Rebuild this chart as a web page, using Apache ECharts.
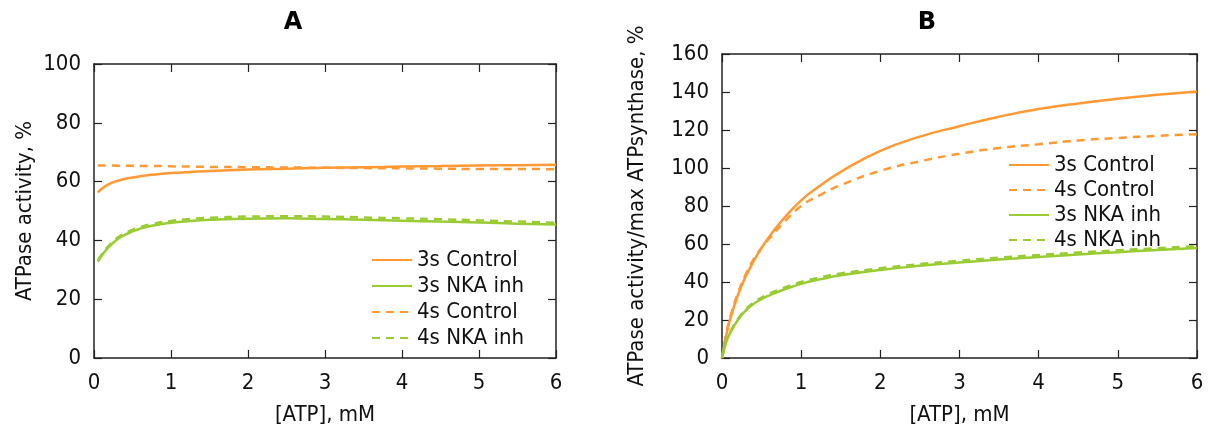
<!DOCTYPE html>
<html>
<head>
<meta charset="utf-8">
<script src="https://cdn.jsdelivr.net/npm/echarts@6/dist/echarts.min.js"></script>
<style>
  html, body { margin: 0; padding: 0; background: #fff; }
  #chart { width: 1210px; height: 431px; }
</style>
</head>
<body>
<div id="chart"></div>
<script>
// panel A: ATPase activity, %
var atpA = [0.05, 0.1, 0.2, 0.3, 0.4, 0.5, 0.6, 0.75, 1, 1.25, 1.5, 2, 2.5, 3, 3.5, 4, 4.5, 5, 5.5, 6];
var ctrl3A = [56.3, 57.6, 59.2, 60.2, 60.9, 61.4, 61.8, 62.3, 62.9, 63.3, 63.6, 64.1, 64.4, 64.7, 64.9, 65.1, 65.3, 65.5, 65.6, 65.7];
var ctrl4A = [65.5, 65.5, 65.5, 65.4, 65.4, 65.4, 65.3, 65.3, 65.2, 65.1, 65.0, 64.9, 64.8, 64.7, 64.6, 64.5, 64.4, 64.3, 64.3, 64.2];
var nka3A  = [32.8, 34.8, 38.0, 40.3, 41.9, 43.1, 44.0, 45.0, 46.0, 46.6, 47.0, 47.4, 47.5, 47.3, 47.0, 46.7, 46.4, 46.1, 45.7, 45.4];
var nka4A  = [33.2, 35.2, 38.4, 40.8, 42.4, 43.6, 44.5, 45.6, 46.6, 47.3, 47.7, 48.1, 48.2, 48.1, 47.8, 47.5, 47.2, 46.8, 46.4, 46.0];

// panel B: ATPase activity / max ATPsynthase, %
var atpB = [0, 0.05, 0.1, 0.2, 0.3, 0.4, 0.5, 0.6, 0.75, 1, 1.25, 1.5, 2, 2.5, 3, 3.5, 4, 4.5, 5, 5.5, 6];
var ctrl3B = [0, 11, 20, 33, 43, 51, 58, 64, 72, 83, 91, 98, 109, 116.5, 122, 127, 131, 134, 136.5, 138.5, 140.3];
var ctrl4B = [0, 12, 21, 34, 44, 52, 58, 63, 70, 80, 86, 91, 98.5, 103.5, 107.5, 110.5, 112.5, 114.5, 115.8, 116.9, 117.8];
var nka3B  = [0, 8, 13, 20, 25, 28.5, 31, 33, 35.5, 39, 41.5, 43.5, 46.3, 48.5, 50.3, 51.8, 53.2, 54.5, 55.7, 56.8, 57.9];
var nka4B  = [0, 8.5, 13.5, 20.5, 25.6, 29.2, 31.8, 33.9, 36.4, 40, 42.5, 44.5, 47.2, 49.4, 51.2, 52.8, 54.2, 55.5, 56.7, 57.8, 58.9];

var xTicks = [0, 1, 2, 3, 4, 5, 6];

var orange = '#ff9933';
var green = '#99cc33';
var font = "'DejaVu Sans Condensed', 'Liberation Sans Narrow', 'DejaVu Sans', sans-serif";

function pairs(xs, ys) {
  var out = [];
  for (var i = 0; i < xs.length; i++) {
    out.push([xs[i], ys[i]]);
  }
  return out;
}

function axisX(gridIndex, pos, show) {
  return {
    type: 'value', gridIndex: gridIndex, position: pos,
    min: xTicks[0], max: xTicks[xTicks.length - 1], interval: 1,
    name: show ? '[ATP], mM' : '',
    nameLocation: 'middle', nameGap: 46,
    nameTextStyle: { fontFamily: font, fontSize: 22, color: '#111' },
    axisLine: { show: true, onZero: false, lineStyle: { color: '#222', width: 1.5 } },
    axisTick: { show: true, inside: true, length: 8, lineStyle: { color: '#222', width: 1.2 } },
    axisLabel: { show: show, fontFamily: font, fontSize: 22, color: '#111', margin: 14 },
    splitLine: { show: false }
  };
}

function axisY(gridIndex, pos, show, max, interval, name, gap, nameSize) {
  return {
    type: 'value', gridIndex: gridIndex, position: pos,
    min: 0, max: max, interval: interval,
    name: show ? name : '',
    nameLocation: 'middle', nameGap: gap,
    nameTextStyle: { fontFamily: font, fontSize: nameSize, color: '#111' },
    axisLine: { show: true, onZero: false, lineStyle: { color: '#222', width: 1.5 } },
    axisTick: { show: true, inside: true, length: 8, lineStyle: { color: '#222', width: 1.2 } },
    axisLabel: { show: show, fontFamily: font, fontSize: 22, color: '#111', margin: 13 },
    splitLine: { show: false }
  };
}

function line(name, x, y, color, dashed, xi, yi) {
  return {
    name: name, type: 'line', xAxisIndex: xi, yAxisIndex: yi,
    data: pairs(x, y), smooth: true, symbol: 'none', silent: true,
    lineStyle: { color: color, width: 2.5, type: dashed ? [8, 6] : 'solid' },
    itemStyle: { color: color }
  };
}

var myChart = echarts.init(document.getElementById('chart'));
var option = {
  backgroundColor: '#fff',
  animation: false,
  title: [
    { text: 'A', left: 288, top: 6, textAlign: 'center',
      textStyle: { fontFamily: "'DejaVu Sans', sans-serif", fontSize: 24, fontWeight: 'bold', color: '#000' } },
    { text: 'B', left: 922, top: 6, textAlign: 'center',
      textStyle: { fontFamily: "'DejaVu Sans', sans-serif", fontSize: 24, fontWeight: 'bold', color: '#000' } }
  ],
  grid: [
    { left: 94, right: 654, top: 64, bottom: 68 },
    { left: 722, right: 13, top: 54, bottom: 67 }
  ],
  xAxis: [
    axisX(0, 'bottom', true), axisX(0, 'top', false),
    axisX(1, 'bottom', true), axisX(1, 'top', false)
  ],
  yAxis: [
    axisY(0, 'left', true, 100, 20, 'ATPase activity, %', 58, 22),
    axisY(0, 'right', false, 100, 20, '', 0, 22),
    axisY(1, 'left', true, 160, 20, 'ATPase activity/max ATPsynthase, %', 74, 22),
    axisY(1, 'right', false, 160, 20, '', 0, 22)
  ],
  legend: [
    { orient: 'vertical', left: 366, top: 244, itemWidth: 40, itemHeight: 14, itemGap: 4,
      data: ['3s Control', '3s NKA inh', '4s Control', '4s NKA inh'],
      itemStyle: { opacity: 0 },
      textStyle: { fontFamily: font, fontSize: 22, color: '#111', padding: [0, 0, 0, 0] },
      selectedMode: false },
    { orient: 'vertical', left: 1003, top: 149, itemWidth: 40, itemHeight: 14, itemGap: 3,
      data: ['3s Control ', '4s Control ', '3s NKA inh ', '4s NKA inh '],
      itemStyle: { opacity: 0 },
      textStyle: { fontFamily: font, fontSize: 22, color: '#111', padding: [0, 0, 0, 0] },
      selectedMode: false }
  ],
  series: [
    line('3s Control', atpA, ctrl3A, orange, false, 0, 0),
    line('3s NKA inh', atpA, nka3A, green, false, 0, 0),
    line('4s Control', atpA, ctrl4A, orange, true, 0, 0),
    line('4s NKA inh', atpA, nka4A, green, true, 0, 0),
    line('3s Control ', atpB, ctrl3B, orange, false, 2, 2),
    line('4s Control ', atpB, ctrl4B, orange, true, 2, 2),
    line('3s NKA inh ', atpB, nka3B, green, false, 2, 2),
    line('4s NKA inh ', atpB, nka4B, green, true, 2, 2)
  ]
};
myChart.setOption(option);
</script>
</body>
</html>
